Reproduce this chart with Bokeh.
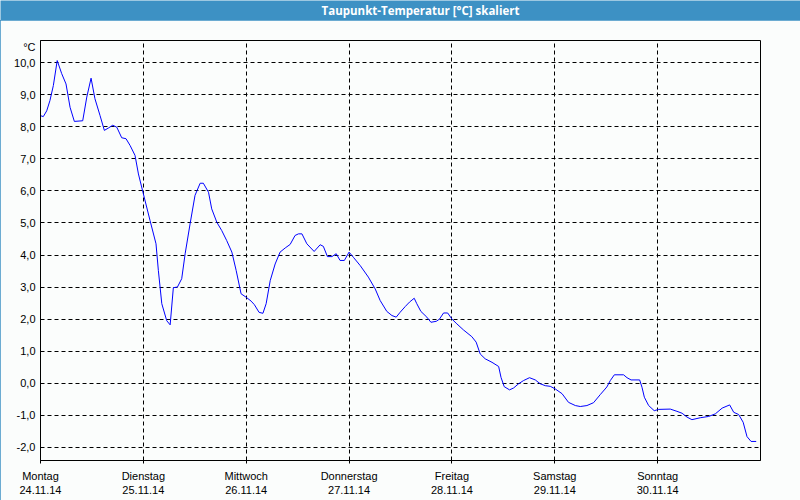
from bokeh.plotting import figure
from bokeh.models import FixedTicker, Range1d, Label
from bokeh.embed import file_html
from bokeh.resources import INLINE

TITLE = "Taupunkt-Temperatur [°C] skaliert"
UNIT = "°C"

day_names = ["Montag", "Dienstag", "Mittwoch", "Donnerstag", "Freitag", "Samstag", "Sonntag"]
day_dates = ["24.11.14", "25.11.14", "26.11.14", "27.11.14", "28.11.14", "29.11.14", "30.11.14"]
day_ticks = [0, 24, 48, 72, 96, 120, 144]
y_ticks = [-2, -1, 0, 1, 2, 3, 4, 5, 6, 7, 8, 9, 10]
unit_tick = 10.5

# hours since Monday 24.11.14 00:00
hours = [0.0, 0.65, 1.45, 2.2, 3.0, 3.9, 4.95, 5.95, 6.9, 7.9, 9.85, 10.8, 11.8, 12.7, 13.9,
         14.9, 15.8, 16.85, 17.8, 18.95, 19.95, 20.9, 22.05, 22.85, 24.0, 25.55, 26.95, 27.5,
         28.3, 29.45, 30.25, 31.0, 31.95, 32.95, 33.75, 34.9, 36.05, 37.25, 38.0, 39.2, 39.95,
         41.15, 42.3, 43.45, 44.65, 45.65, 46.8, 48.0, 49.15, 49.9, 51.0, 51.9, 52.65, 53.6,
         54.75, 55.9, 57.1, 58.25, 59.4, 60.2, 61.0, 62.15, 63.85, 65.25, 66.0, 66.95, 68.0,
         69.0, 69.9, 70.9, 72.0, 73.0, 74.6, 76.5, 78.1, 79.25, 80.8, 82.0, 83.0, 83.9, 85.1,
         86.1, 87.2, 87.8, 88.75, 90.15, 91.1, 92.35, 93.1, 94.05, 95.0, 96.0, 97.15, 98.7,
         100.65, 101.65, 102.6, 103.75, 105.35, 106.9, 107.45, 108.2, 109.45, 110.4, 111.55,
         112.7, 114.1, 115.45, 116.6, 117.8, 118.95, 120.1, 121.7, 123.2, 124.8, 125.95, 127.5,
         129.05, 130.6, 132.15, 132.95, 133.9, 136.05, 136.85, 137.8, 139.8, 140.35, 140.9,
         141.9, 143.2, 144.25, 146.95, 148.5, 149.7, 150.85, 152.0, 153.95, 155.9, 157.45,
         159.05, 160.8, 161.75, 162.9, 163.95, 164.85, 165.8, 167.0]
dewpoint = [8.35, 8.32, 8.50, 8.82, 9.29, 10.07, 9.66, 9.34, 8.61, 8.17, 8.19, 8.93, 9.52, 8.88, 8.35,
            7.89, 7.96, 8.05, 7.99, 7.66, 7.63, 7.42, 7.11, 6.53, 5.91, 5.08, 4.35, 3.52,
            2.48, 1.95, 1.82, 2.98, 3.00, 3.26, 4.04, 4.97, 5.86, 6.24, 6.24, 5.96, 5.44,
            5.02, 4.76, 4.45, 4.09, 3.52, 2.79, 2.68, 2.56, 2.45, 2.21, 2.18, 2.48, 3.20,
            3.72, 4.09, 4.22, 4.33, 4.61, 4.66, 4.66, 4.35, 4.11, 4.32, 4.27, 3.95, 3.95,
            4.04, 3.83, 3.83, 4.09, 3.93, 3.67, 3.31, 2.94, 2.58, 2.24, 2.11, 2.06, 2.21, 2.39,
            2.53, 2.65, 2.48, 2.24, 2.06, 1.90, 1.93, 2.00, 2.19, 2.19, 2.00, 1.85, 1.66,
            1.45, 1.28, 0.91, 0.76, 0.65, 0.52, 0.18, -0.11, -0.21, -0.15, -0.02,
            0.08, 0.17, 0.10, -0.02, -0.08, -0.10, -0.18, -0.33, -0.60, -0.70, -0.73, -0.70,
            -0.61, -0.36, -0.12, 0.08, 0.26, 0.26, 0.17, 0.10, 0.10, -0.13, -0.44,
            -0.70, -0.86, -0.82, -0.81, -0.88, -0.94, -1.06, -1.14, -1.08, -1.04, -0.96,
            -0.78, -0.68, -0.91, -0.98, -1.22, -1.67, -1.82, -1.82]

BLUE_BAR = "#3d91c4"
BG = "#fbfdfc"
FONT = "Liberation Sans"

# title bar
t = figure(width=800, height=20, x_range=Range1d(0, 800), y_range=Range1d(0, 20),
           output_backend="svg", toolbar_location=None, min_border=0,
           x_axis_location=None, y_axis_location=None,
           background_fill_color=BLUE_BAR, border_fill_color=BLUE_BAR)
t.grid.visible = False
t.outline_line_color = None
t.add_layout(Label(x=420, y=10, text=TITLE, text_align="center", text_baseline="middle",
                   text_color="white", text_font_style="bold", text_font_size="11.5px",
                   text_font="Open Sans"))

# main chart
p = figure(frame_width=720, frame_height=420,
           x_range=Range1d(0, 168), y_range=Range1d(-2.415, 10.696),
           min_border_left=40, min_border_right=40, min_border_top=20, min_border_bottom=40,
           output_backend="svg", toolbar_location=None,
           background_fill_color=BG, border_fill_color=BG,
           styles={"outline": "1px solid #3d91c4", "outline-offset": "-1px"})

p.line(hours, dewpoint, line_color="#0000ff", line_width=1)

p.xaxis.ticker = FixedTicker(ticks=day_ticks)
p.xaxis.major_label_overrides = {t_: f"{n}\n{d}" for t_, n, d in zip(day_ticks, day_names, day_dates)}

# y axis: numeric ticks plus the unit caption at the top
p.yaxis.ticker = FixedTicker(ticks=y_ticks + [unit_tick])
overrides = {v: f"{v:.1f}".replace(".", ",") for v in y_ticks}
overrides[unit_tick] = UNIT
p.yaxis.major_label_overrides = overrides
p.ygrid.ticker = FixedTicker(ticks=y_ticks)
p.xgrid.ticker = FixedTicker(ticks=day_ticks)

for ax in (p.xaxis, p.yaxis):
    ax.axis_line_color = "black"
    ax.axis_line_width = 1
    ax.minor_tick_line_color = None
    ax.major_label_text_font = FONT
    ax.major_label_text_font_size = "11px"
    ax.major_label_text_color = "black"
    ax.major_tick_in = 0
p.xaxis.major_tick_out = 3
p.xaxis.major_tick_line_color = "black"
p.xaxis.major_label_standoff = 6
p.yaxis.major_tick_out = 0
p.yaxis.major_label_standoff = 5

p.grid.grid_line_color = "black"
p.grid.grid_line_dash = "4 3"
p.grid.grid_line_width = 1
p.outline_line_color = "black"
p.outline_line_width = 1

open("out.html", "w").write(file_html([t, p], INLINE))
